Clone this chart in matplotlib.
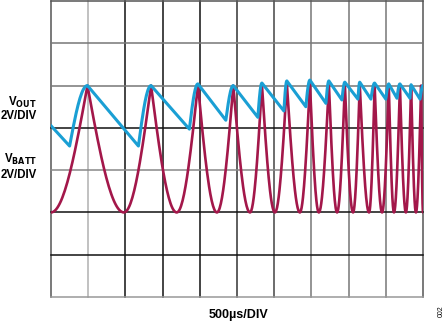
import numpy as np
import matplotlib.pyplot as plt

plt.rcParams['font.family'] = ['Liberation Sans', 'DejaVu Sans']

# V_BATT turning points (time in divisions, level in divisions)
vbatt_min_t = [0.0, 1.96, 3.38, 4.46, 5.35, 6.02, 6.69, 7.20, 7.69, 8.12, 8.55, 8.90, 9.22, 9.54, 9.81]
vbatt_pk_t = [0.98, 2.69, 3.95, 4.90, 5.67, 6.34, 6.96, 7.47, 7.90, 8.30, 8.70, 9.08, 9.38, 9.68, 9.95]
vbatt_min_v = 2.0
vbatt_pk_v = [5.0, 5.0, 5.02, 5.0, 5.02, 5.05, 5.05, 5.04, 5.02, 5.02, 5.0, 5.0, 5.0, 5.0, 5.0]
vbatt_end = (10.0, 4.2)

# V_OUT turning points
vout_start = (0.0, 4.05)
vout_tr_t = [0.50, 2.35, 3.72, 4.70, 5.56, 6.26, 6.85, 7.39, 7.82, 8.25, 8.60, 9.00, 9.30, 9.65, 9.92]
vout_tr_v = [3.57, 3.57, 3.97, 4.18, 4.25, 4.40, 4.50, 4.58, 4.66, 4.68, 4.68, 4.68, 4.70, 4.70, 4.68]
vout_pk_t = [0.98, 2.69, 3.95, 4.90, 5.67, 6.34, 6.96, 7.47, 7.90, 8.30, 8.70, 9.08, 9.38, 9.68, 10.0]
vout_pk_v = [5.0, 5.0, 5.04, 5.0, 5.06, 5.11, 5.13, 5.11, 5.08, 5.08, 5.06, 5.04, 5.04, 5.02, 5.0]


def vbatt_trace():
    t, v = [], []
    for i in range(len(vbatt_pk_t)):
        # rise: rounded bottom, sharp top
        u = np.linspace(0, 1, 30)
        t.append(vbatt_min_t[i] + u * (vbatt_pk_t[i] - vbatt_min_t[i]))
        v.append(vbatt_pk_v[i] - (vbatt_pk_v[i] - vbatt_min_v) * np.cos(u * np.pi / 2))
        if i + 1 < len(vbatt_min_t):
            t1 = vbatt_min_t[i + 1]
        else:
            t1 = vbatt_end[0]
        u = np.linspace(0, 1, 30)
        t.append(vbatt_pk_t[i] + u * (t1 - vbatt_pk_t[i]))
        v.append(vbatt_pk_v[i] - (vbatt_pk_v[i] - vbatt_min_v) * np.sin(u * np.pi / 2))
    return np.concatenate(t), np.concatenate(v)


def vout_trace():
    t, v = [[vout_start[0]]], [[vout_start[1]]]
    for i in range(len(vout_tr_t)):
        t.append([vout_tr_t[i]])
        v.append([vout_tr_v[i]])
        u = np.linspace(0, 1, 20)
        t.append(vout_tr_t[i] + u * (vout_pk_t[i] - vout_tr_t[i]))
        v.append(vout_tr_v[i] + (vout_pk_v[i] - vout_tr_v[i]) * np.sin(u * np.pi / 2))
    return np.concatenate(t), np.concatenate(v)


fig = plt.figure(figsize=(4.48, 3.23), dpi=100)
ax = fig.add_axes([51 / 448, 1 - 297 / 323, 372 / 448, 296 / 323])
ax.set_xlim(0, 10)
ax.set_ylim(0, 7)
ax.axis('off')

# scope graticule
vcols = ['#555555', '#b0b0b0', '#111111', '#111111', '#111111', '#333333',
         '#444444', '#777777', '#777777', '#777777', '#555555']
hcols = ['#999999', '#111111', '#111111', '#888888', '#111111', '#777777', '#777777', '#555555']
for k, c in enumerate(vcols):
    ax.plot([k, k], [0, 7], color=c, lw=1.1, clip_on=False, zorder=1)
for k, c in enumerate(hcols):
    ax.plot([0, 10], [k, k], color=c, lw=1.1, clip_on=False, zorder=1)

tb, vb = vbatt_trace()
to, vo = vout_trace()
ax.plot(tb, vb, color='#a3174a', lw=1.9, zorder=3, solid_capstyle='round')
ax.plot(to, vo, color='#1a9fd4', lw=2.2, zorder=4, solid_joinstyle='round')

lab = dict(ha='right', va='baseline', fontsize=8.3, fontweight='bold')
fig.text(37 / 448, 1 - 106 / 323, r'V$_{\mathbf{OUT}}$', **lab)
fig.text(37 / 448, 1 - 119 / 323, '2V/DIV', **lab)
fig.text(37 / 448, 1 - 163 / 323, r'V$_{\mathbf{BATT}}$', **lab)
fig.text(37 / 448, 1 - 178 / 323, '2V/DIV', **lab)
fig.text(239 / 448, 1 - 318 / 323, '500µs/DIV', ha='center', va='baseline',
         fontsize=9, fontweight='bold')
fig.text(441 / 448, 1 - 311 / 323, '002', ha='center', va='center',
         fontsize=5, rotation=90)

fig.savefig('out.png', dpi=100)
